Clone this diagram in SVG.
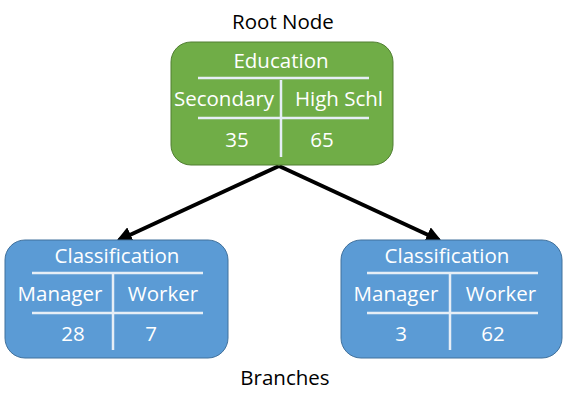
<svg xmlns="http://www.w3.org/2000/svg" width="563" height="405" viewBox="0 0 563 405">
<style>
.t{font-family:"Open Sans",Lato,"Liberation Sans",sans-serif;font-size:20.5px;fill:#fff;text-anchor:middle}
.lbl{font-family:"Open Sans",Lato,"Liberation Sans",sans-serif;font-size:20.5px;fill:#000;text-anchor:middle}
.g{fill:#70AD47;stroke:#507E32;stroke-width:1}
.b{fill:#5B9BD5;stroke:#41719C;stroke-width:1}
.ln{stroke:#E6EEF6;stroke-width:2.5;fill:none}
.c{stroke:#000;stroke-width:4;fill:none;marker-end:url(#ah)}
</style>
<defs>
<marker id="ah" viewBox="0 0 10 10" refX="8" refY="5" markerWidth="4" markerHeight="4" orient="auto" markerUnits="strokeWidth">
<path d="M0,0 L10,5 L0,10 z" fill="#000"/>
</marker>
</defs>
<rect width="563" height="405" fill="#fff"/>
<text class="lbl" x="283" y="29">Root Node</text>
<text class="lbl" x="285" y="385">Branches</text>
<g id="connectors">
<line class="c" x1="279" y1="166" x2="119" y2="240"/>
<line class="c" x1="279" y1="166" x2="439" y2="240"/>
</g>
<g id="root">
<rect class="g" x="171" y="42" width="222" height="123" rx="20"/>
<line class="ln" x1="198" y1="78" x2="369" y2="78"/>
<line class="ln" x1="198" y1="118" x2="369" y2="118"/>
<line class="ln" x1="281" y1="80" x2="281" y2="157"/>
<text class="t" x="281" y="68">Education</text>
<text class="t" x="224" y="106">Secondary</text>
<text class="t" x="339" y="106">High Schl</text>
<text class="t" x="237" y="147">35</text>
<text class="t" x="322" y="147">65</text>
</g>
<g id="left">
<rect class="b" x="5" y="240" width="223" height="118" rx="20"/>
<line class="ln" x1="32" y1="273" x2="203" y2="273"/>
<line class="ln" x1="32" y1="313" x2="203" y2="313"/>
<line class="ln" x1="113" y1="274" x2="113" y2="350"/>
<text class="t" x="117" y="263">Classification</text>
<text class="t" x="60" y="301">Manager</text>
<text class="t" x="163" y="301">Worker</text>
<text class="t" x="73" y="341">28</text>
<text class="t" x="151" y="341">7</text>
</g>
<g id="right">
<rect class="b" x="341" y="240" width="221" height="118" rx="20"/>
<line class="ln" x1="367" y1="273" x2="538" y2="273"/>
<line class="ln" x1="367" y1="313" x2="538" y2="313"/>
<line class="ln" x1="450" y1="274" x2="450" y2="350"/>
<text class="t" x="447" y="263">Classification</text>
<text class="t" x="396" y="301">Manager</text>
<text class="t" x="501" y="301">Worker</text>
<text class="t" x="401" y="341">3</text>
<text class="t" x="493" y="341">62</text>
</g>
</svg>
